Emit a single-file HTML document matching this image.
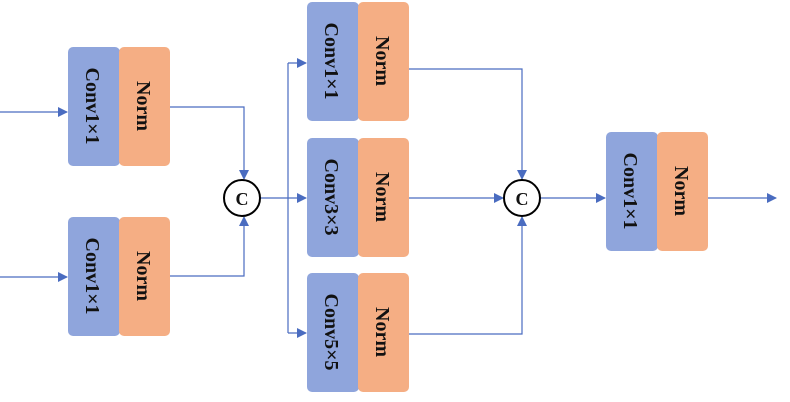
<!DOCTYPE html>
<html><head><meta charset="utf-8"><style>
html,body{margin:0;padding:0;background:#fff;width:790px;height:402px;overflow:hidden}
text{font-family:"Liberation Serif",serif;font-weight:bold;font-size:20px;fill:#111}
</style></head><body>
<svg width="790" height="402" viewBox="0 0 790 402" xmlns="http://www.w3.org/2000/svg">
<defs>
<marker id="a" markerWidth="10" markerHeight="10" refX="9" refY="5" orient="auto" markerUnits="userSpaceOnUse">
<path d="M0,0 L10,5 L0,10 z" fill="#4a6cc0"/></marker>
<g id="blk">
<rect x="0" y="0" width="52" height="119" rx="5" fill="#8fa5dc"/>
<rect x="51" y="0" width="51" height="119" rx="5" fill="#f5ae84"/>
</g>
</defs>
<g stroke="#4a6cc0" stroke-width="1.2" fill="none">
<path d="M0,112 H67" marker-end="url(#a)"/>
<path d="M0,277 H67" marker-end="url(#a)"/>
<path d="M170,107 H244 V179" marker-end="url(#a)"/>
<path d="M170,276 H244 V217" marker-end="url(#a)"/>
<path d="M260,198 H288"/>
<path d="M288,63 V333"/>
<path d="M288,63 H306" marker-end="url(#a)"/>
<path d="M288,198 H306" marker-end="url(#a)"/>
<path d="M288,333 H306" marker-end="url(#a)"/>
<path d="M409,69 H522 V179" marker-end="url(#a)"/>
<path d="M409,198 H503" marker-end="url(#a)"/>
<path d="M409,334 H522 V217" marker-end="url(#a)"/>
<path d="M540,198 H605" marker-end="url(#a)"/>
<path d="M708,198 H776" marker-end="url(#a)"/>
</g>
<use href="#blk" x="68" y="47"/>
<use href="#blk" x="68" y="217"/>
<use href="#blk" x="307" y="2"/>
<use href="#blk" x="307" y="138"/>
<use href="#blk" x="307" y="273"/>
<use href="#blk" x="606" y="132"/>
<g>
<text transform="translate(86,106) rotate(90)" text-anchor="middle">Conv1×1</text>
<text transform="translate(137,106) rotate(90)" text-anchor="middle">Norm</text>
<text transform="translate(86,276) rotate(90)" text-anchor="middle">Conv1×1</text>
<text transform="translate(137,276) rotate(90)" text-anchor="middle">Norm</text>
<text transform="translate(325,61) rotate(90)" text-anchor="middle">Conv1×1</text>
<text transform="translate(376,61) rotate(90)" text-anchor="middle">Norm</text>
<text transform="translate(325,197) rotate(90)" text-anchor="middle">Conv3×3</text>
<text transform="translate(376,197) rotate(90)" text-anchor="middle">Norm</text>
<text transform="translate(325,332) rotate(90)" text-anchor="middle">Conv5×5</text>
<text transform="translate(376,332) rotate(90)" text-anchor="middle">Norm</text>
<text transform="translate(624,191) rotate(90)" text-anchor="middle">Conv1×1</text>
<text transform="translate(675,191) rotate(90)" text-anchor="middle">Norm</text>
</g>
<circle cx="242" cy="198" r="18" fill="#fff" stroke="#000" stroke-width="2"/>
<text x="242" y="205" text-anchor="middle" style="font-size:18px">C</text>
<circle cx="522" cy="198" r="18" fill="#fff" stroke="#000" stroke-width="2"/>
<text x="522" y="205" text-anchor="middle" style="font-size:18px">C</text>
</svg>
</body></html>
